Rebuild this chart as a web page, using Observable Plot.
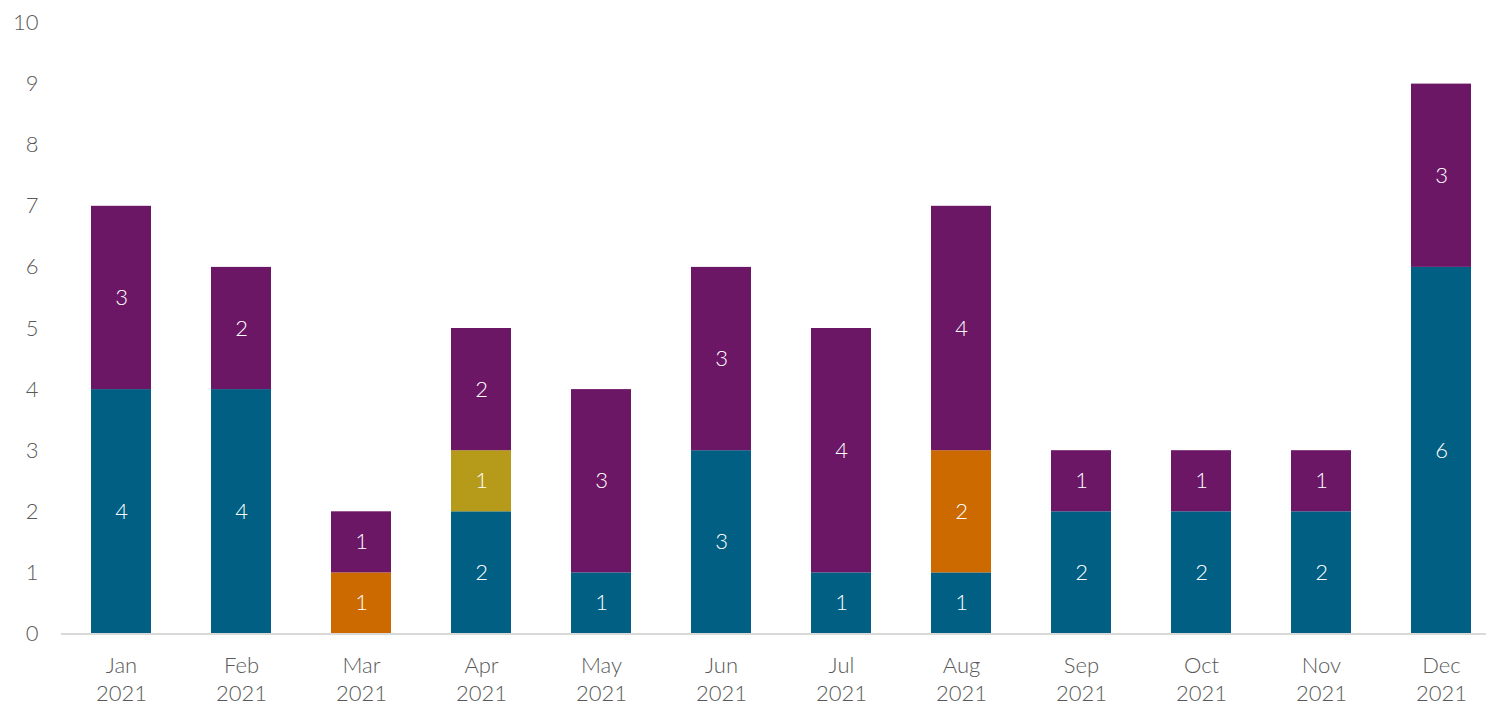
<!DOCTYPE html>
<html>
<head>
<meta charset="utf-8">
<script src="https://cdn.jsdelivr.net/npm/d3@7"></script>
<script src="https://cdn.jsdelivr.net/npm/@observablehq/plot@0.6"></script>
<style>
  body { margin: 0; background: #fff; }
  #chart svg { display: block; }
</style>
</head>
<body>
<div id="chart"></div>
<script>
const months = ["Jan", "Feb", "Mar", "Apr", "May", "Jun", "Jul", "Aug", "Sep", "Oct", "Nov", "Dec"];
const year = "2021";
const seriesNames = ["A", "B", "C", "D"];
const seriesColors = ["#005f83", "#cc6a00", "#b69a19", "#6c1766"];
const valuesA = [4, 4, 0, 2, 1, 3, 1, 1, 2, 2, 2, 6];
const valuesB = [0, 0, 1, 0, 0, 0, 0, 2, 0, 0, 0, 0];
const valuesC = [0, 0, 0, 1, 0, 0, 0, 0, 0, 0, 0, 0];
const valuesD = [3, 2, 1, 2, 3, 3, 4, 4, 1, 1, 1, 3];
const yTicks = [0, 1, 2, 3, 4, 5, 6, 7, 8, 9, 10];

const seriesValues = [valuesA, valuesB, valuesC, valuesD];
const data = [];
seriesNames.forEach((s, si) => {
  months.forEach((m, mi) => {
    data.push({month: m, series: s, value: seriesValues[si][mi]});
  });
});
const nonzero = data.filter(d => d.value > 0);

const font = "Lato, 'Noto Sans', sans-serif";

const chart = Plot.plot({
  width: 1486,
  height: 706,
  marginLeft: 61,
  marginRight: 0,
  marginTop: 22.5,
  marginBottom: 72.5,
  style: {fontFamily: font, background: "#fff"},
  x: {domain: months, range: [61, 1501], paddingInner: 0.5, paddingOuter: 0.25, label: null},
  y: {domain: [0, 10], label: null},
  color: {domain: seriesNames, range: seriesColors},
  marks: [
    Plot.barY(nonzero, Plot.stackY({x: "month", y: "value", fill: "series", order: seriesNames})),
    Plot.text(nonzero, Plot.stackY({x: "month", y: "value", z: "series", order: seriesNames, text: d => String(d.value), fill: "white", fontSize: 22, fontWeight: 300})),
    Plot.ruleY([0], {stroke: "#d9d9d9", strokeWidth: 2}),
    Plot.axisY({ticks: yTicks, tickSize: 0, tickPadding: 23, fontSize: 22, fontWeight: 300, fill: "#595959", label: null}),
    Plot.axisX({tickSize: 0, tickPadding: 19, fontSize: 22, fontWeight: 300, lineHeight: 1.28, fill: "#595959", tickFormat: m => m + "\n" + year, label: null})
  ]
});
document.getElementById("chart").appendChild(chart);
</script>
</body>
</html>
